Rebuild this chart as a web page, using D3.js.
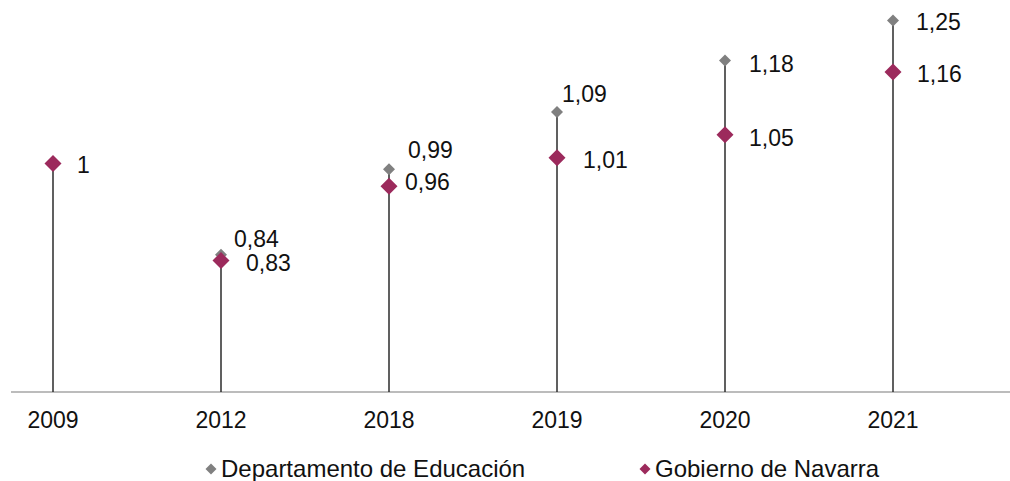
<!DOCTYPE html>
<html>
<head>
<meta charset="utf-8">
<title>Departamento de Educación / Gobierno de Navarra</title>
<script src="https://cdn.jsdelivr.net/npm/d3@7"></script>
<style>
  body { margin: 0; background: #fff; }
  text { font-family: "Liberation Sans", Arial, sans-serif; fill: #111; }
</style>
</head>
<body>
<svg id="chart" width="1010" height="481"></svg>
<script>

// data
var years = ["2009", "2012", "2018", "2019", "2020", "2021"];
var educacion = [null, 0.84, 0.99, 1.09, 1.18, 1.25];
var navarra = [1, 0.83, 0.96, 1.01, 1.05, 1.16];
var seriesNames = ["Departamento de Educación", "Gobierno de Navarra"];

// label placement tweaks (dx, dy from marker), like the hand-moved excel labels
var eduNudge = [null, [13, -16], [19, -19], [5, -18], [24, 3], [23, 1]];
var navNudge = [[24, 1], [25, 2], [16, -5], [26, 2], [24, 3], [24, 2]];

var svg = d3.select("#chart"),
    width = +svg.attr("width"),
    height = +svg.attr("height");

var gray = "#808080", wine = "#9c2a5c";

var x = d3.scalePoint()
    .domain(years)
    .range([53, 893]);

var y = d3.scaleLinear()
    .domain([0.6, 1.3])
    .range([392, -8]);

var fmt = function(v) { return String(v).replace(".", ","); };

// axis line
svg.append("line")
    .attr("x1", 11).attr("x2", width)
    .attr("y1", y(0.6)).attr("y2", y(0.6))
    .style("stroke", "#a6a6a6")
    .style("stroke-width", 1.5);

// drop lines from highest point to axis
svg.selectAll("line.drop")
  .data(years)
  .enter().append("line")
    .attr("class", "drop")
    .attr("x1", function(d) { return x(d); })
    .attr("x2", function(d) { return x(d); })
    .attr("y1", function(d, i) { return y(Math.max(educacion[i] || 0, navarra[i])); })
    .attr("y2", y(0.6))
    .style("stroke", "#2b2b2b")
    .style("stroke-width", 1.5);

var diamond = function(r) {
  return "M0," + (-r) + "L" + r + ",0L0," + r + "L" + (-r) + ",0Z";
};

// year labels
svg.selectAll("text.tick")
  .data(years)
  .enter().append("text")
    .attr("class", "tick")
    .attr("x", function(d) { return x(d); })
    .attr("y", 428)
    .attr("text-anchor", "middle")
    .style("font-size", "23px")
    .text(function(d) { return d; });

// Departamento de Educación points
var edu = years.map(function(d, i) { return {year: d, v: educacion[i], n: eduNudge[i]}; })
  .filter(function(d) { return d.v != null; });

svg.selectAll("path.edu")
  .data(edu)
  .enter().append("path")
    .attr("class", "edu")
    .attr("transform", function(d) { return "translate(" + x(d.year) + "," + y(d.v) + ")"; })
    .attr("d", diamond(6))
    .style("fill", gray);

// Gobierno de Navarra points
var nav = years.map(function(d, i) { return {year: d, v: navarra[i], n: navNudge[i]}; });

svg.selectAll("path.nav")
  .data(nav)
  .enter().append("path")
    .attr("class", "nav")
    .attr("transform", function(d) { return "translate(" + x(d.year) + "," + y(d.v) + ")"; })
    .attr("d", diamond(8.5))
    .style("fill", wine);

// value labels
svg.selectAll("text.lbl")
  .data(edu.concat(nav))
  .enter().append("text")
    .attr("class", "lbl")
    .attr("x", function(d) { return x(d.year) + d.n[0]; })
    .attr("y", function(d) { return y(d.v) + d.n[1]; })
    .attr("dy", "0.36em")
    .style("font-size", "23px")
    .text(function(d) { return fmt(d.v); });

// legend
var legend = svg.selectAll("g.legend")
  .data(seriesNames)
  .enter().append("g")
    .attr("class", "legend")
    .attr("transform", function(d, i) { return "translate(" + (i == 0 ? 211 : 645) + ",469)"; });

legend.append("path")
    .attr("d", diamond(5.5))
    .style("fill", function(d, i) { return i == 0 ? gray : wine; });

legend.append("text")
    .attr("x", 10)
    .attr("y", 8)
    .style("font-size", "24px")
    .text(function(d) { return d; });

</script>
</body>
</html>
